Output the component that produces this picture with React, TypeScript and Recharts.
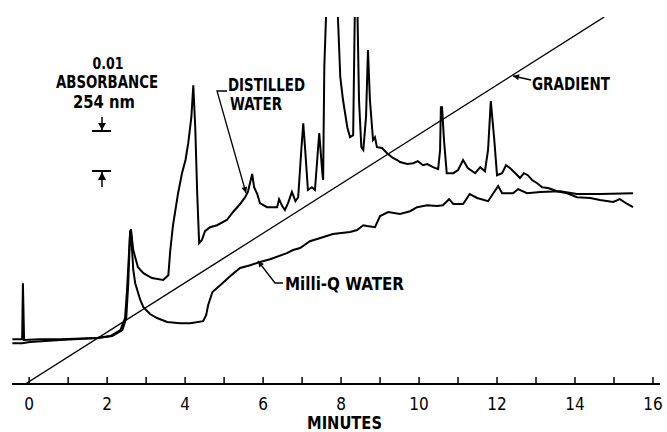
import React from "react";
import { LineChart, Line, XAxis, YAxis } from "recharts";

// retention time (min) and absorbance (mAU above baseline)
const distilledTime = [
  -0.43, -0.23, -0.18, -0.16, -0.13, 0.28, 0.8, 1.74, 2.08, 2.34, 2.46, 2.51, 2.59, 2.61, 2.67, 2.72,
  2.79, 2.93, 3.15, 3.44, 3.57, 3.62, 3.69, 3.82, 3.92, 4.01, 4.08, 4.16, 4.21, 4.26, 4.31, 4.36,
  4.43, 4.51, 4.64, 4.82, 5.07, 5.23, 5.41, 5.54, 5.61, 5.72, 5.77, 5.85, 5.92, 6.1, 6.36, 6.41,
  6.49, 6.56, 6.64, 6.74, 6.83, 6.9, 6.98, 7.03, 7.08, 7.15, 7.25, 7.33, 7.42, 7.44, 7.52, 7.54,
  7.57, 7.62, 7.69, 7.79, 7.87, 7.92, 7.98, 8.05, 8.16, 8.23, 8.31, 8.36, 8.38, 8.41, 8.46, 8.52,
  8.57, 8.64, 8.69, 8.74, 8.82, 8.87, 8.92, 9.05, 9.18, 9.33, 9.44, 9.51, 9.7, 9.85, 9.97, 10.1,
  10.21, 10.36, 10.49, 10.54, 10.56, 10.59, 10.64, 10.71, 10.88, 11.0, 11.13, 11.25, 11.44, 11.57,
  11.69, 11.77, 11.84, 11.93, 12.0, 12.13, 12.23, 12.33, 12.47, 12.59, 12.69, 12.79, 12.9,
  13.03, 13.16, 13.31, 13.54, 13.8, 14.05, 14.39, 14.64, 14.98, 15.15, 15.34, 15.49,
];
const distilledAbs = [
  11.2, 11.2, 11.2, 25.2, 11.0, 11.2, 11.2, 11.5, 12, 13.5, 16.5, 23.5, 38, 38.7, 33.5, 31.7,
  29.2, 27.7, 26.5, 26, 27.2, 33.5, 39.7, 47.7, 52.7, 56, 60.2, 66.7, 74.7, 64.2, 47.7, 35.2,
  36, 38.2, 39.2, 39.7, 41, 43, 45, 46.7, 48, 52.5, 49.2, 47.5, 45.2, 44.2, 44.2, 46.2,
  44.5, 43.5, 45.2, 48, 45.7, 46.7, 58.5, 65.2, 58.5, 48.5, 49.2, 48.5, 60.2, 62.7, 52.7, 51,
  79.2, 93.5, 116, 111, 98.5, 91.5, 76.7, 71, 64.2, 61.7, 62.2, 98.5, 103.5, 98.5, 71, 59.2,
  58.5, 66.7, 83.5, 71, 61, 61.7, 59.2, 59, 57.7, 56.5, 56, 55.5, 55, 55.2, 55.7, 54.7,
  55, 54.2, 53.7, 58.5, 69.2, 69.2, 61, 52.7, 52.7, 53.5, 56, 54, 52.7, 54.2,
  53.2, 58.5, 70.7, 61, 52.2, 52.7, 54.7, 54, 52.7, 51.5, 52.7, 52.2, 51,
  50.2, 49.2, 49, 48.2, 47.7, 46.7, 46.5, 46, 45.5, 46.2, 45, 44.2,
];

const milliQTime = [
  -0.43, -0.18, 0.02, 0.8, 1.74, 2.13, 2.39, 2.49, 2.54, 2.59, 2.61, 2.67, 2.72, 2.85, 2.93, 3.1,
  3.28, 3.54, 3.87, 4.13, 4.46, 4.54, 4.59, 4.7, 4.9, 5.16, 5.41, 5.67, 5.92, 6.18, 6.61, 6.77,
  6.95, 7.2, 7.47, 7.79, 8.23, 8.41, 8.57, 8.67, 8.87, 9.0, 9.21, 9.51, 9.77, 9.95, 10.21, 10.46,
  10.61, 10.77, 10.88, 11.13, 11.3, 11.49, 11.77, 12.03, 12.13, 12.41, 12.54, 12.77, 13.11,
  13.62, 14.05, 14.64, 15.49,
];
const milliQAbs = [
  10.2, 10.2, 10.5, 11, 11.5, 12, 13.5, 16.5, 24.7, 38, 38.5, 28.5, 25.2, 21, 19.2, 17.5,
  16.5, 15.5, 15.2, 15.2, 15.7, 17.2, 19.7, 23, 24.7, 27, 29, 29.7, 30.5, 31.2, 32.7, 33.5,
  34, 35.7, 36.5, 37.5, 38, 38.5, 39.7, 39.5, 39.2, 42, 43, 42.5, 43.2, 44.2, 44.7, 44.5,
  44.7, 46.2, 45, 45, 47.5, 46.5, 45.7, 49.5, 47.7, 47.7, 48.7, 47.7, 48,
  48.2, 47.5, 47.5, 47.7,
];

// solvent gradient, % B
const gradientTime = [-0.1, 14.75];
const gradientPct = [0, 100];

const minuteTicks = [0, 1, 2, 3, 4, 5, 6, 7, 8, 9, 10, 11, 12, 13, 14, 15, 16];

const distilled = distilledTime.map((t, i) => ({ t, a: distilledAbs[i] }));
const milliQ = milliQTime.map((t, i) => ({ t, a: milliQAbs[i] }));
const gradient = gradientTime.map((t, i) => ({ t, b: gradientPct[i] }));

const FONT = "'DejaVu Sans Condensed', 'Liberation Sans Narrow', 'DejaVu Sans', sans-serif";

function MinuteTick({ x, y, payload }: any) {
  const v = payload.value;
  return (
    <g>
      <line x1={x} x2={x} y1={y - 7} y2={y} stroke="#000" strokeWidth={1.5} />
      {v % 2 === 0 && (
        <text x={x} y={y + 26} textAnchor="middle" fontFamily={FONT} fontSize={17} fill="#000">
          {v}
        </text>
      )}
    </g>
  );
}

function Annotations() {
  const txt = { fontFamily: FONT, fontSize: 17, fontWeight: 700, fill: "#000" } as const;
  return (
    <svg
      width={667}
      height={432}
      style={{ position: "absolute", left: 0, top: 0, pointerEvents: "none" }}
    >
      <defs>
        <marker id="arr" viewBox="0 0 10 10" refX="10" refY="5" markerWidth="8" markerHeight="6" orient="auto" markerUnits="userSpaceOnUse">
          <path d="M0,0 L10,5 L0,10 z" fill="#000" />
        </marker>
      </defs>

      <text {...txt} fontSize={15} x={108} y={69} textAnchor="middle" textLength={31} lengthAdjust="spacingAndGlyphs">0.01</text>
      <text {...txt} x={56} y={88} textLength={102} lengthAdjust="spacingAndGlyphs">ABSORBANCE</text>
      <text {...txt} x={73} y={108} textLength={62} lengthAdjust="spacingAndGlyphs">254 nm</text>

      <line x1={102} y1={117} x2={102} y2={131} stroke="#000" strokeWidth={1.5} />
      <line x1={92} y1={131} x2={111} y2={131} stroke="#000" strokeWidth={2} />
      <polygon points="98,123 106,123 102,130" fill="#000" />
      <line x1={92} y1={171} x2={111} y2={171} stroke="#000" strokeWidth={2} />
      <line x1={102} y1={171} x2={102} y2={187} stroke="#000" strokeWidth={1.5} />
      <polygon points="98,180 106,180 102,172" fill="#000" />

      <text {...txt} x={228} y={91} textLength={77} lengthAdjust="spacingAndGlyphs">DISTILLED</text>
      <text {...txt} x={230} y={110} textLength={52} lengthAdjust="spacingAndGlyphs">WATER</text>
      <polyline points="227,91 217,91 246,193" fill="none" stroke="#000" strokeWidth={1.3} markerEnd="url(#arr)" />

      <text {...txt} x={532} y={90} textLength={78} lengthAdjust="spacingAndGlyphs">GRADIENT</text>
      <line x1={531} y1={80} x2={513} y2={76} stroke="#000" strokeWidth={1.3} markerEnd="url(#arr)" />

      <text {...txt} x={285} y={290} textLength={119} lengthAdjust="spacingAndGlyphs">Milli-Q WATER</text>
      <polyline points="283,283 275,283 258,261" fill="none" stroke="#000" strokeWidth={1.3} markerEnd="url(#arr)" />

      <text {...txt} x={307} y={429} textLength={75} lengthAdjust="spacingAndGlyphs">MINUTES</text>
    </svg>
  );
}

export default function App() {
  return (
    <div style={{ position: "absolute", left: 0, top: 0, width: 667, height: 432, background: "#fff" }}>
      <LineChart width={667} height={432} margin={{ top: 17, right: 7, left: 12, bottom: 18 }}>
        <XAxis
          dataKey="t"
          type="number"
          domain={[-0.44, 16.18]}
          ticks={minuteTicks}
          interval={0}
          height={30}
          axisLine={{ stroke: "#000", strokeWidth: 2 }}
          tickLine={false}
          tickSize={0}
          tickMargin={0}
          tick={<MinuteTick />}
          allowDataOverflow
        />
        <YAxis yAxisId="a" hide domain={[0, 91.75]} allowDataOverflow />
        <YAxis yAxisId="g" hide domain={[0, 100]} allowDataOverflow />
        <Line
          yAxisId="g"
          data={gradient}
          dataKey="b"
          type="linear"
          stroke="#000"
          strokeWidth={1.4}
          dot={false}
          activeDot={false}
          isAnimationActive={false}
        />
        <Line
          yAxisId="a"
          data={milliQ}
          dataKey="a"
          type="linear"
          stroke="#000"
          strokeWidth={2}
          dot={false}
          activeDot={false}
          isAnimationActive={false}
        />
        <Line
          yAxisId="a"
          data={distilled}
          dataKey="a"
          type="linear"
          stroke="#000"
          strokeWidth={2}
          dot={false}
          activeDot={false}
          isAnimationActive={false}
        />
      </LineChart>
      <Annotations />
    </div>
  );
}
